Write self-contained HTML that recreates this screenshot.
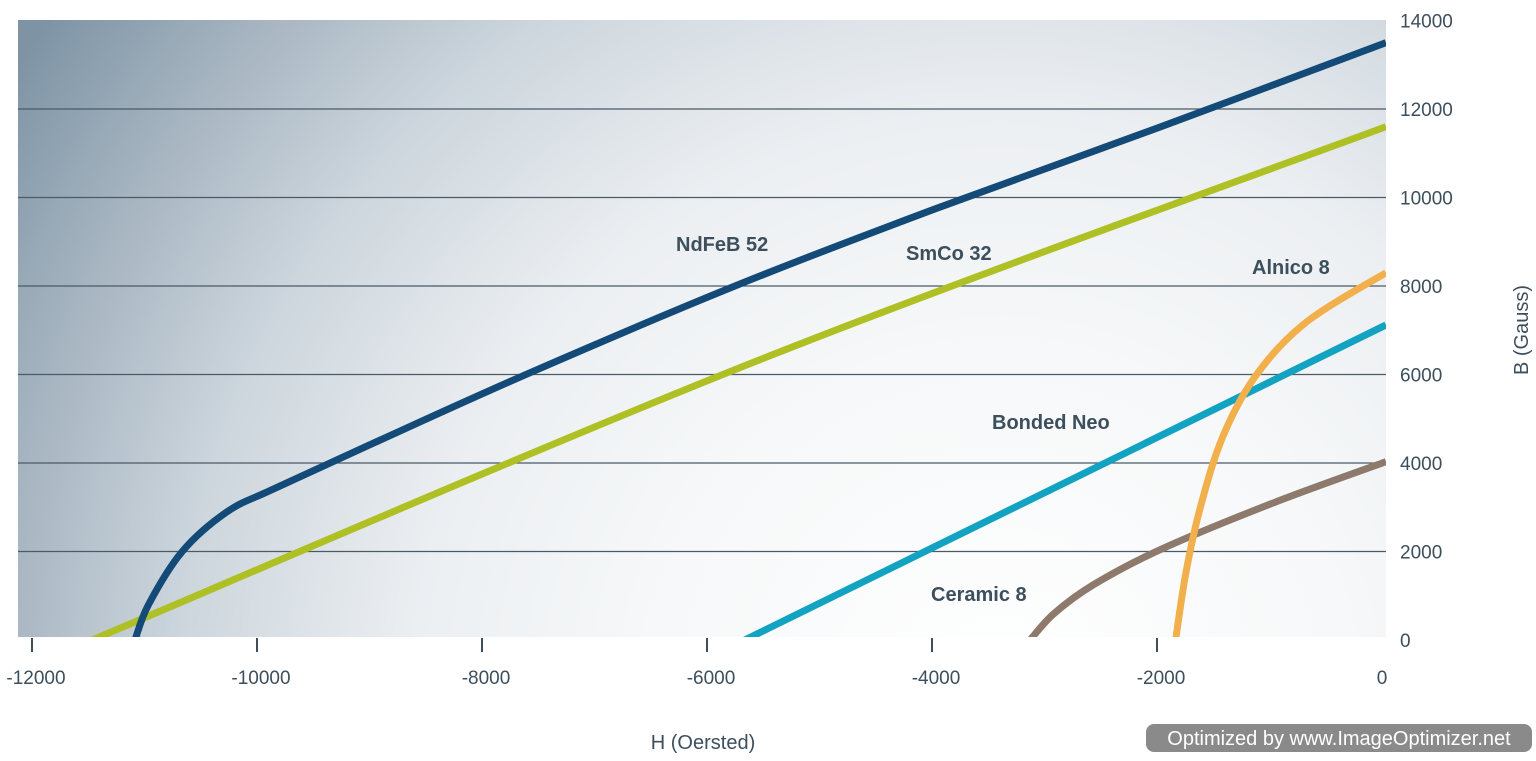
<!DOCTYPE html>
<html><head><meta charset="utf-8"><style>
body{margin:0;width:1536px;height:756px;background:#fff;overflow:hidden;font-family:"Liberation Sans",sans-serif}
svg text{font-family:"Liberation Sans",sans-serif;fill:#3d4f5c}
</style></head><body>
<svg id="chart" width="1536" height="756" xmlns="http://www.w3.org/2000/svg">
<defs>
<radialGradient id="bg" cx="1000" cy="700" r="1170" gradientUnits="userSpaceOnUse">
<stop offset="0" stop-color="#ffffff"/><stop offset="0.3" stop-color="#f6f8f9"/><stop offset="0.5" stop-color="#eceff2"/><stop offset="0.7" stop-color="#cdd6dd"/><stop offset="0.85" stop-color="#a8b6c2"/><stop offset="1" stop-color="#7e94a5"/>
</radialGradient>
</defs>
<rect x="18" y="20" width="1368" height="617" fill="url(#bg)"/>
<g id="grid"></g><g id="series"></g><g id="axes"></g>
<text x="676" y="251" font-size="20" font-weight="bold">NdFeB 52</text>
<text x="906" y="260" font-size="20" font-weight="bold">SmCo 32</text>
<text x="1252" y="274" font-size="20" font-weight="bold">Alnico 8</text>
<text x="992" y="429" font-size="20" font-weight="bold">Bonded Neo</text>
<text x="931" y="601" font-size="20" font-weight="bold">Ceramic 8</text>
<text x="703" y="749" font-size="20" text-anchor="middle">H (Oersted)</text>
<text transform="translate(1528 330) rotate(-90)" font-size="20" text-anchor="middle">B (Gauss)</text>
<g>
<rect x="1146" y="724" width="386" height="28" rx="8" fill="#8a8a8a"/>
<text x="1339" y="745" font-size="20" text-anchor="middle" style="fill:#fff">Optimized by www.ImageOptimizer.net</text>
</g>
</svg>
<script>
const xTicks=[-12000,-10000,-8000,-6000,-4000,-2000,0];
const yTicks=[0,2000,4000,6000,8000,10000,12000,14000];
const ndfebH=[-11120,-11000,-10700,-10300,-9900,-9000,-7600,-5787,-4000,-2000,0];
const ndfebB=[0,800,2000,2900,3400,4450,6050,8000,9750,11600,13500];
const smcoH=[-11500,-5600,0];
const smcoB=[0,6300,11600];
const bondedH=[-5700,0];
const bondedB=[0,7120];
const ceramicH=[-3164,-2950,-2600,-2000,-1000,0];
const ceramicB=[0,600,1250,2050,3100,4030];
const alnicoH=[-1870,-1780,-1650,-1450,-1150,-700,0];
const alnicoB=[0,1500,3000,4600,6000,7200,8300];
const NS='http://www.w3.org/2000/svg';
const X=h=>1386+h*0.1125;
const Y=b=>640-b*0.04425;
function mk(t,p){const e=document.createElementNS(NS,t);for(const k in p)e.setAttribute(k,p[k]);return e;}
const grid=document.getElementById('grid'),axes=document.getElementById('axes'),ser=document.getElementById('series');
yTicks.forEach(v=>{
  if(v>0&&v<14000){const l=mk('line',{x1:18,x2:1386,y1:Y(v),y2:Y(v),stroke:'#4a5a66','stroke-width':1.3});
  
  
  grid.appendChild(l);}
  const t=mk('text',{x:1400,y:Math.min(Y(v),640)+7,'font-size':19});
  
  
  t.textContent=v;axes.appendChild(t);
});
xTicks.forEach(v=>{
  const l=mk('line',{x1:X(v)-4,x2:X(v)-4,y1:638,y2:652,stroke:'#3d4f5c','stroke-width':2});
  
  
  if(v!==0)axes.appendChild(l);
  const t=mk('text',{x:X(v)-(v===0?4:0),y:684,'font-size':19,'text-anchor':'middle'});
  
  
  t.textContent=v;axes.appendChild(t);
});
function smooth(H,B){
  const p=H.map((h,i)=>[X(h),Y(B[i])]);
  let d='M'+p[0][0]+','+p[0][1];
  for(let i=0;i<p.length-1;i++){
    const p0=p[i-1]||p[i],p1=p[i],p2=p[i+1],p3=p[i+2]||p2;
    d+=' C'+(p1[0]+(p2[0]-p0[0])/6)+','+(p1[1]+(p2[1]-p0[1])/6)+' '+(p2[0]-(p3[0]-p1[0])/6)+','+(p2[1]-(p3[1]-p1[1])/6)+' '+p2[0]+','+p2[1];
  }
  return d;
}
const cp=mk('clipPath',{id:'clip'});cp.appendChild(mk('rect',{x:18,y:20,width:1368,height:617}));
document.querySelector('defs').appendChild(cp);
[['series-smco-32',smcoH,smcoB,'#afc024'],['series-bonded-neo',bondedH,bondedB,'#12a2c2'],['series-ceramic-8',ceramicH,ceramicB,'#8e7a6c'],['series-ndfeb-52',ndfebH,ndfebB,'#134a78'],['series-alnico-8',alnicoH,alnicoB,'#f2b04c']].forEach(s=>{
  const e=mk('path',{d:smooth(s[1],s[2]),fill:'none',stroke:s[3],'stroke-width':7,'clip-path':'url(#clip)'});
  
  
  ser.appendChild(e);
});
</script>
</body></html>
